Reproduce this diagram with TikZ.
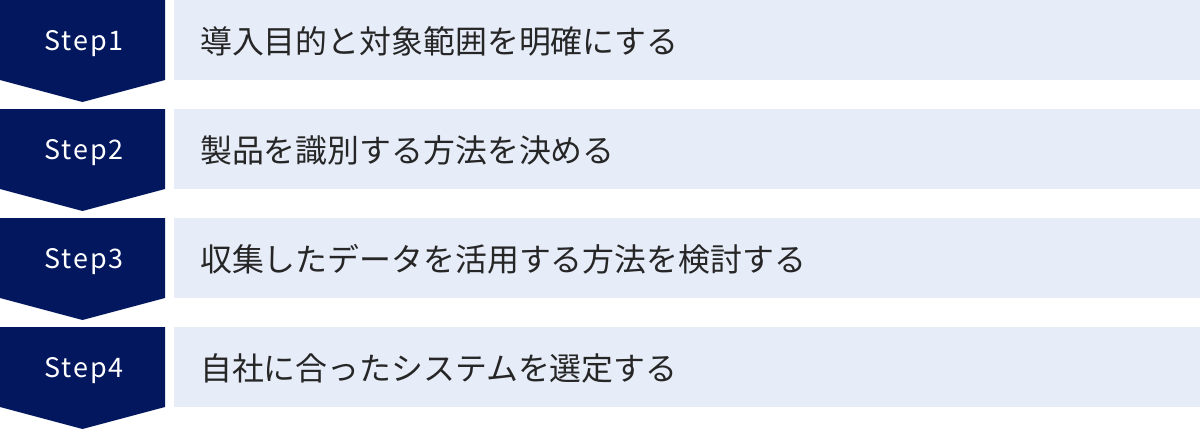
\documentclass[tikz,border=0pt]{standalone}
\usepackage{fontspec}
\setmainfont{Noto Sans CJK JP}
\definecolor{navy}{HTML}{03175F}
\definecolor{paleblue}{HTML}{E6ECF8}
\tikzset{
  stepbox/.style={fill=navy, draw=none},
  descbox/.style={fill=paleblue, draw=none},
  steplabel/.style={text=white, font=\fontsize{27}{30}\selectfont\addfontfeatures{LetterSpace=7}, anchor=center, inner sep=0},
  desclabel/.style={text=black!85, font=\fontsize{32}{36}\selectfont, anchor=west, inner sep=0},
}
\begin{document}
\begin{tikzpicture}[x=1bp,y=-1bp]
\useasboundingbox (0,0) rectangle (1200,429);
\foreach \i/\t in {1/導入目的と対象範囲を明確にする,2/製品を識別する方法を決める,3/収集したデータを活用する方法を検討する,4/自社に合ったシステムを選定する}{
  \pgfmathsetmacro{\top}{(\i-1)*109}
  \fill[stepbox] (0,\top) -- (165,\top) -- (165,\top+80) -- (82.5,\top+102) -- (0,\top+80) -- cycle;
  \fill[descbox] (174,\top) rectangle (1200,\top+80);
  \node[steplabel] (s\i) at (84,\top+44) {Step\i};
  \node[desclabel] (d\i) at (200,\top+41) {\t};
}
\end{tikzpicture}
\end{document}
